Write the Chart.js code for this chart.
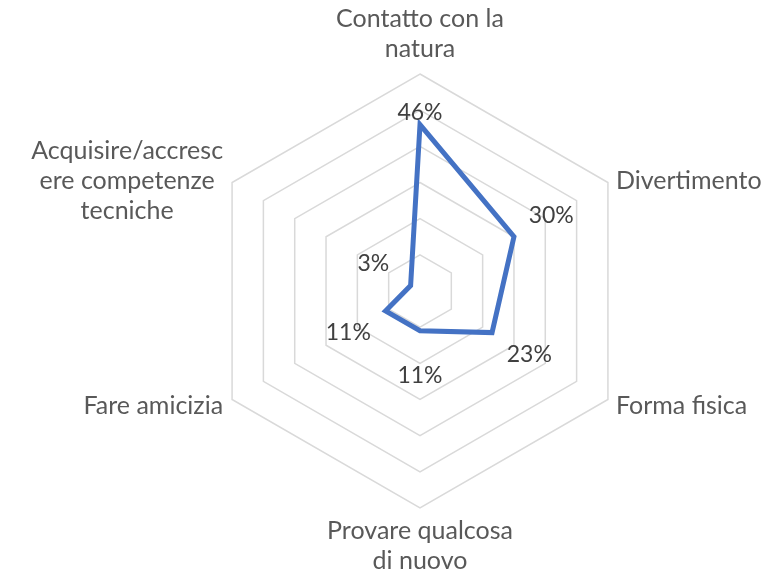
<!DOCTYPE html>
<html>
<head>
<meta charset="utf-8">
<script src="https://cdn.jsdelivr.net/npm/chart.js@4/dist/chart.umd.min.js"></script>
<style>
  html, body { margin: 0; padding: 0; background: #ffffff; }
  #wrap { width: 764px; height: 574px; }
</style>
</head>
<body>
<div id="wrap"><canvas id="grafico"></canvas></div>
<script>
// categorie (etichette degli assi) e valori della serie
const categorie = [
  ['Contatto con la', 'natura'],
  ['Divertimento'],
  ['Forma fisica'],
  ['Provare qualcosa', 'di nuovo'],
  ['Fare amicizia'],
  ['Acquisire/accresc', 'ere competenze', 'tecniche']
];
const valori = [0.46, 0.30, 0.23, 0.11, 0.11, 0.03];
const etichetteValori = ['46%', '30%', '23%', '11%', '11%', '3%'];
const scalaMax = 0.6;
const scalaPasso = 0.1;

const fontTesto = 'Lato, "DejaVu Sans", sans-serif';

// etichette degli assi disegnate a mano (righe centrate come in Excel)
const etichetteAssi = {
  id: 'etichetteAssi',
  afterDraw(chart) {
    const scale = chart.scales.r;
    const ctx = chart.ctx;
    const size = 25;
    const lh = 30;
    ctx.save();
    ctx.font = size + 'px ' + fontTesto;
    ctx.fillStyle = '#595959';
    ctx.textBaseline = 'middle';
    ctx.textAlign = 'center';
    categorie.forEach((righe, i) => {
      const p = scale.getPointPosition(i, scale.drawingArea);
      const larg = Math.max(...righe.map(r => ctx.measureText(r).width));
      const alt = righe.length * lh;
      let cx, top;
      if (i === 0) {
        cx = p.x; top = p.y - 10 - alt;
      } else if (i === 3) {
        cx = p.x; top = p.y + 8;
      } else if (i === 1 || i === 2) {
        cx = p.x + 8 + larg / 2; top = p.y - alt / 2 + (i === 2 ? 6 : -2);
      } else {
        cx = p.x - 9 - larg / 2; top = p.y - alt / 2 + (i === 4 ? 6 : -2);
      }
      righe.forEach((r, k) => ctx.fillText(r, cx, top + lh * k + lh / 2));
    });
    ctx.restore();
  }
};

// etichette dei valori vicino ai punti
const etichetteDati = {
  id: 'etichetteDati',
  afterDatasetsDraw(chart) {
    const scale = chart.scales.r;
    const ctx = chart.ctx;
    const scarti = [12, 43, 43, 45, 43, 43];
    ctx.save();
    ctx.font = '23px ' + fontTesto;
    ctx.fillStyle = '#404040';
    ctx.textAlign = 'center';
    ctx.textBaseline = 'middle';
    valori.forEach((v, i) => {
      const d = scale.getDistanceFromCenterForValue(v) + scarti[i];
      const p = scale.getPointPosition(i, d);
      ctx.fillText(etichetteValori[i], p.x, p.y);
    });
    ctx.restore();
  }
};

const ctx = document.getElementById('grafico').getContext('2d');
new Chart(ctx, {
  type: 'radar',
  data: {
    labels: categorie.map(c => c.join(' ')),
    datasets: [{
      label: 'Motivazioni',
      data: valori,
      fill: false,
      borderColor: '#4472C4',
      borderWidth: 5,
      pointRadius: 0,
      pointHoverRadius: 0,
      tension: 0
    }]
  },
  options: {
    responsive: true,
    maintainAspectRatio: false,
    animation: false,
    events: [],
    layout: {
      padding: { top: 74, bottom: 66, left: 203, right: 127 }
    },
    scales: {
      r: {
        min: 0,
        max: scalaMax,
        ticks: { display: false, stepSize: scalaPasso },
        angleLines: { display: false },
        grid: { color: '#d9d9d9', lineWidth: 1.5 },
        pointLabels: { display: false }
      }
    },
    plugins: {
      legend: { display: false },
      tooltip: { enabled: false }
    }
  },
  plugins: [etichetteAssi, etichetteDati]
});
</script>
</body>
</html>
